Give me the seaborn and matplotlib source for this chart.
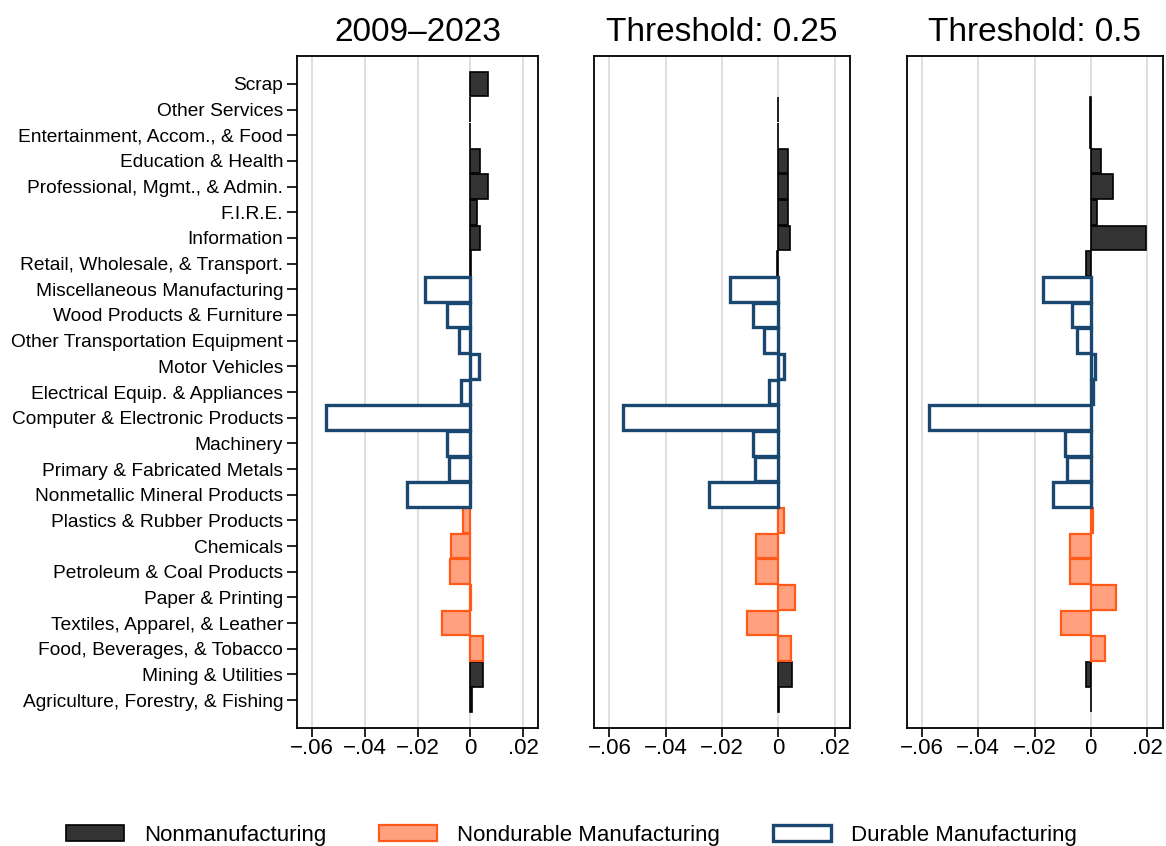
import numpy as np
import pandas as pd
import matplotlib
matplotlib.use("Agg")
import matplotlib.pyplot as plt
from matplotlib.patches import Patch
import seaborn as sns

sns.set_style("white")
plt.rcParams['font.family'] = ['Liberation Sans', 'DejaVu Sans']
plt.rcParams['text.color'] = 'black'
plt.rcParams['xtick.color'] = 'black'
plt.rcParams['ytick.color'] = 'black'
plt.rcParams['axes.labelcolor'] = 'black'

industries = [
    "Scrap", "Other Services", "Entertainment, Accom., & Food", "Education & Health",
    "Professional, Mgmt., & Admin.", "F.I.R.E.", "Information",
    "Retail, Wholesale, & Transport.", "Miscellaneous Manufacturing",
    "Wood Products & Furniture", "Other Transportation Equipment", "Motor Vehicles",
    "Electrical Equip. & Appliances", "Computer & Electronic Products", "Machinery",
    "Primary & Fabricated Metals", "Nonmetallic Mineral Products",
    "Plastics & Rubber Products", "Chemicals", "Petroleum & Coal Products",
    "Paper & Printing", "Textiles, Apparel, & Leather", "Food, Beverages, & Tobacco",
    "Mining & Utilities", "Agriculture, Forestry, & Fishing",
]
groups = (["Nonmanufacturing"] * 8 + ["Durable Manufacturing"] * 9 +
          ["Nondurable Manufacturing"] * 6 + ["Nonmanufacturing"] * 2)

values_2009_2023 = [0.0066, -0.0002, -0.0002, 0.0035, 0.0068, 0.0023, 0.0035, 0.0003,
                    -0.0170, -0.0089, -0.0045, 0.0033, -0.0036, -0.0545, -0.0087,
                    -0.0082, -0.0241, -0.0027, -0.0073, -0.0076, 0.0003, -0.0108,
                    0.0047, 0.0048, 0.0006]
values_thr_025 = [np.nan, -0.0001, -0.0001, 0.0035, 0.0035, 0.0033, 0.0042, -0.0006,
                  -0.0172, -0.0091, -0.0051, 0.0021, -0.0032, -0.0551, -0.0091,
                  -0.0081, -0.0247, 0.0019, -0.0079, -0.0079, 0.0058, -0.0110,
                  0.0047, 0.0048, 0.0001]
values_thr_05 = [np.nan, -0.0002, -0.0002, 0.0035, 0.0080, 0.0021, 0.0197, -0.0018,
                 -0.0171, -0.0066, -0.0050, 0.0016, 0.0008, -0.0576, -0.0090,
                 -0.0083, -0.0133, 0.0008, -0.0075, -0.0075, 0.0091, -0.0107,
                 0.0049, -0.0016, 0.0002]

titles = ["2009\u20132023", "Threshold: 0.25", "Threshold: 0.5"]
xticks = [-0.06, -0.04, -0.02, 0.0, 0.02]
xtick_labels = ["\u2212.06", "\u2212.04", "\u2212.02", "0", ".02"]
group_order = ["Nonmanufacturing", "Nondurable Manufacturing", "Durable Manufacturing"]

styles = {
    "Nonmanufacturing": dict(face="#333333", edge="#000000", lw=1.2),
    "Nondurable Manufacturing": dict(face="#FFA07E", edge="#FF5A1A", lw=1.6),
    "Durable Manufacturing": dict(face="#FFFFFF", edge="#1A476F", lw=2.4),
}

fig = plt.figure(figsize=(11.66, 8.46), dpi=100)
positions = [
    [297 / 1166, 1 - 728 / 846, 241 / 1166, 672 / 846],
    [594 / 1166, 1 - 728 / 846, 256 / 1166, 672 / 846],
    [906.5 / 1166, 1 - 728 / 846, 256 / 1166, 672 / 846],
]
all_vals = [values_2009_2023, values_thr_025, values_thr_05]

for i, (pos, vals, title) in enumerate(zip(positions, all_vals, titles)):
    ax = fig.add_axes(pos)
    df = pd.DataFrame({"industry": industries, "value": vals, "group": groups})
    df = df.dropna()
    sns.barplot(data=df, x="value", y="industry", hue="group", order=industries,
                hue_order=group_order, dodge=False, orient="h", width=0.96,
                errorbar=None, legend=False, ax=ax, zorder=3)
    for cont, g in zip(ax.containers, group_order):
        st = styles[g]
        for p in cont.patches:
            p.set_facecolor(st["face"])
            p.set_edgecolor(st["edge"])
            p.set_linewidth(st["lw"])
            p.set_zorder(3)
    ax.set_xlim(-0.0655, 0.0255)
    ax.set_ylim(len(industries) - 1 + 1.09, -1.09)
    ax.set_xticks(xticks)
    ax.set_xticklabels(xtick_labels, fontsize=16)
    ax.set_xlabel("")
    ax.set_ylabel("")
    ax.grid(axis="x", color="#DCDCDC", linewidth=1.3, zorder=0)
    ax.grid(axis="y", visible=False)
    ax.set_axisbelow(True)
    for sp in ax.spines.values():
        sp.set_visible(True)
        sp.set_color("black")
        sp.set_linewidth(1.3)
    ax.tick_params(axis="x", direction="out", length=6.5, width=1.2, pad=1,
                   bottom=True, color="black", labelcolor="black")
    if i == 0:
        ax.set_yticks(range(len(industries)))
        ax.set_yticklabels(industries, fontsize=13.8)
        ax.tick_params(axis="y", direction="out", length=7, width=1.2, pad=3,
                       left=True, color="black", labelcolor="black")
    else:
        ax.set_yticks([])
        ax.tick_params(axis="y", left=False, labelleft=False)
    ax.set_title(title, fontsize=24, pad=11, color="black")

handles = [Patch(facecolor=styles[g]["face"], edgecolor=styles[g]["edge"],
                 linewidth=styles[g]["lw"], label=g) for g in group_order]
fig.legend(handles=handles, loc="center", bbox_to_anchor=(0.49, 0.013), ncol=3,
           frameon=False, fontsize=16, handlelength=2.6, handleheight=0.7,
           handletextpad=0.9, columnspacing=2.38, borderpad=0,
           labelcolor="black")

fig.savefig("out.png", dpi=100)
